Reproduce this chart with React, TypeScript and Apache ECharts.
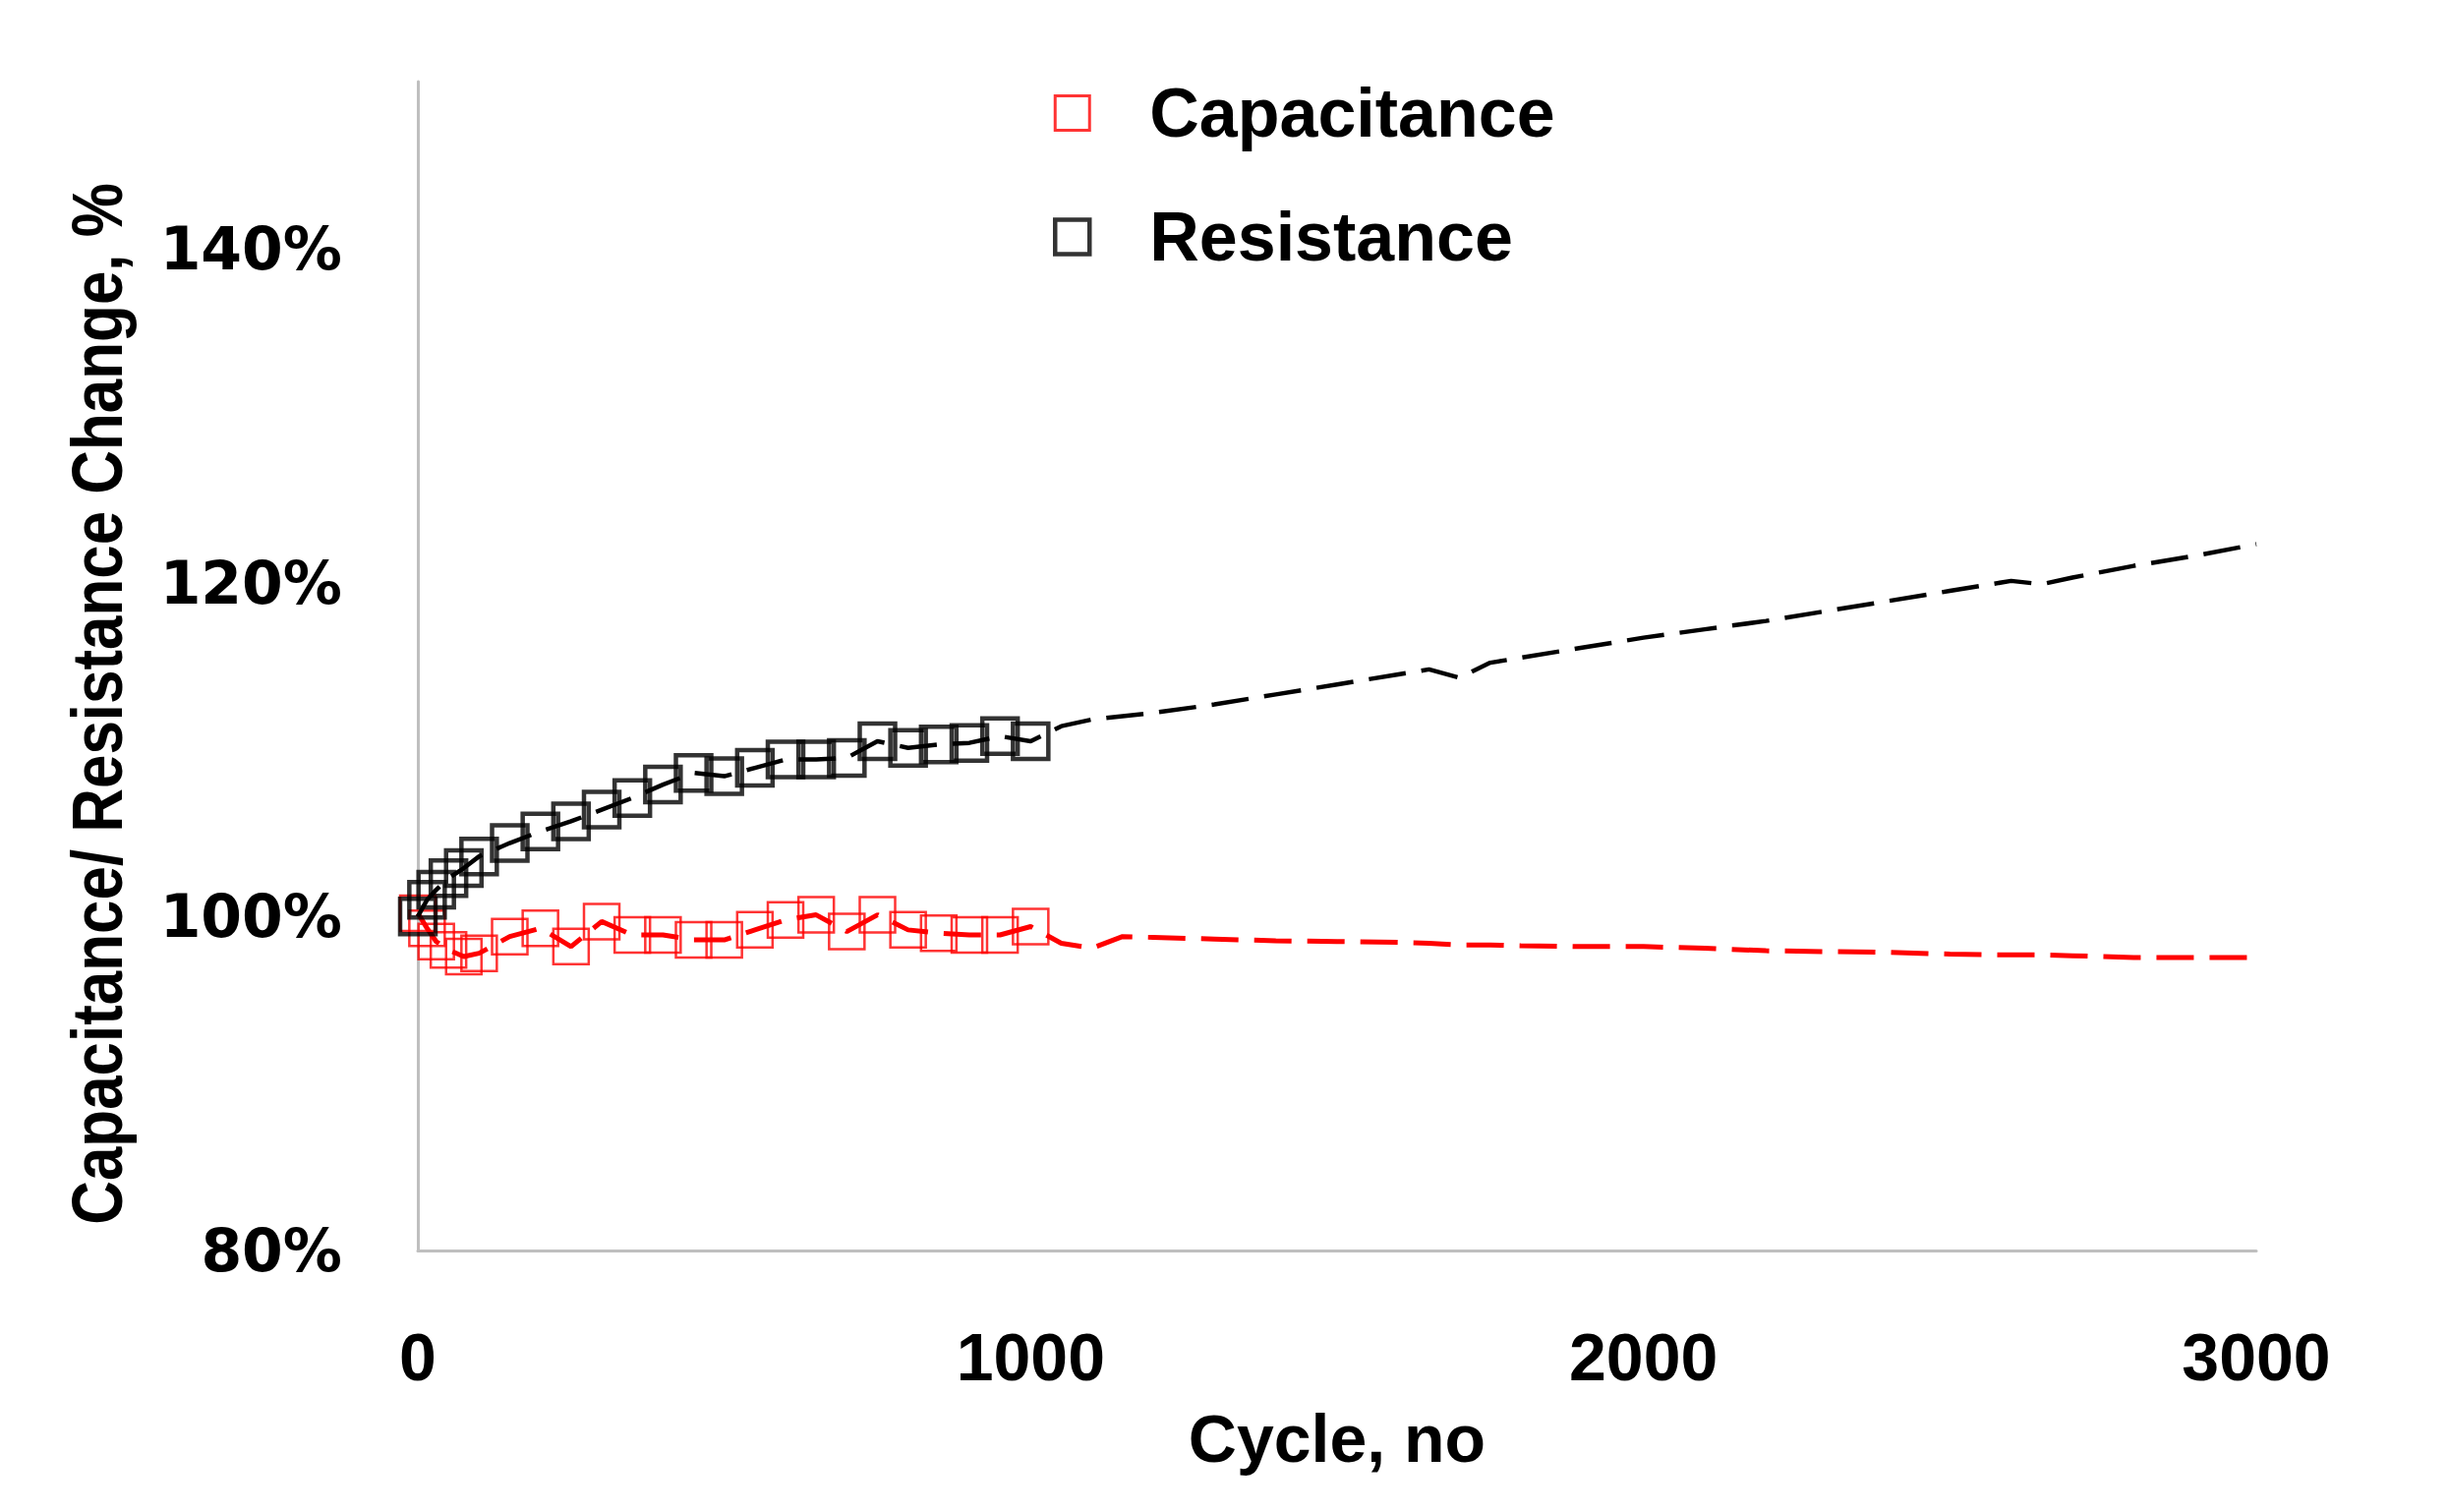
import React, { useEffect, useRef } from "react";
import * as echarts from "echarts";

const markerCycles = [0, 15, 30, 50, 75, 100, 150, 200, 250, 300, 350, 400, 450, 500, 550, 600, 650, 700, 750, 800, 850, 900, 950, 1000];
const capMarkers = [100.2, 99.3, 98.5, 98.0, 97.6, 97.8, 98.8, 99.3, 98.2, 99.7, 98.9, 98.9, 98.6, 98.6, 99.2, 99.8, 100.1, 99.1, 100.1, 99.2, 99.0, 98.9, 98.9, 99.4];
const resMarkers = [100.0, 101.0, 101.6, 102.3, 102.9, 103.6, 104.4, 105.1, 105.7, 106.4, 107.1, 107.9, 108.6, 108.4, 108.9, 109.4, 109.4, 109.5, 110.5, 110.1, 110.3, 110.4, 110.8, 110.5];

const extCycles = [1050, 1100, 1150, 1200, 1300, 1400, 1500, 1600, 1650, 1700, 1750, 1800, 1900, 2000, 2100, 2200, 2300, 2400, 2500, 2600, 2650, 2700, 2800, 2900, 3000];
const capExt = [98.4, 98.1, 98.8, 98.75, 98.65, 98.55, 98.5, 98.45, 98.4, 98.3, 98.3, 98.25, 98.2, 98.2, 98.1, 97.95, 97.9, 97.85, 97.75, 97.7, 97.7, 97.65, 97.55, 97.55, 97.55];
const resExt = [111.4, 111.8, 112.0, 112.2, 112.7, 113.3, 113.9, 114.5, 114.8, 114.3, 115.2, 115.5, 116.1, 116.7, 117.2, 117.7, 118.3, 118.9, 119.5, 120.1, 119.9, 120.3, 121.0, 121.6, 122.3];

const xTicks = { min: 0, max: 3000, interval: 1000 };
const yTicks = { min: 80, max: 150, interval: 20 };

const seriesNames = ["Capacitance", "Resistance"];
const xTitle = "Cycle, no";
const yTitle = "Capacitance/ Resistance Change, %";

const pair = (xs: number[], ys: number[]) => xs.map((x, i) => [x, ys[i]]);

export default function App() {
  const ref = useRef<HTMLDivElement>(null);
  useEffect(() => {
    if (!ref.current) return;
    const chart = echarts.init(ref.current, undefined, { renderer: "svg" });
    const capAll = pair(markerCycles, capMarkers).concat(pair(extCycles, capExt));
    const resAll = pair(markerCycles, resMarkers).concat(pair(extCycles, resExt));
    const axisLine = { show: true, lineStyle: { color: "#bfbfbf", width: 3 } };
    chart.setOption({
      animation: false,
      backgroundColor: "#ffffff",
      grid: { left: 425, right: 195, top: 83, bottom: 266, containLabel: false },
      legend: {
        orient: "vertical",
        left: 1066,
        top: 75,
        itemWidth: 35,
        itemHeight: 35,
        itemGap: 56,
        selectedMode: false,
        data: [
          { name: seriesNames[0], icon: "rect", itemStyle: { color: "#ffffff", borderColor: "#ff0000", borderWidth: 3 } },
          { name: seriesNames[1], icon: "rect", itemStyle: { color: "#ffffff", borderColor: "#000000", borderWidth: 4.5 } },
        ],
        textStyle: {
          fontFamily: '"Liberation Sans", Arial, sans-serif',
          fontWeight: "bold",
          fontSize: 70,
          color: "#000000",
          padding: [0, 0, 0, 56],
        },
      },
      xAxis: {
        type: "value",
        ...xTicks,
        axisLine,
        axisTick: { show: false },
        splitLine: { show: false },
        axisLabel: {
          margin: 74,
          formatter: (v: number) => String(v),
          fontFamily: '"Liberation Sans", Arial, sans-serif',
          fontWeight: "bold",
          fontSize: 68,
          color: "#000000",
        },
        name: xTitle,
        nameLocation: "middle",
        nameGap: 157,
        nameTextStyle: {
          fontFamily: '"Liberation Sans", Arial, sans-serif',
          fontWeight: "bold",
          fontSize: 68,
          color: "#000000",
        },
      },
      yAxis: {
        type: "value",
        ...yTicks,
        axisLine,
        axisTick: { show: false },
        splitLine: { show: false },
        axisLabel: {
          margin: 77,
          showMaxLabel: false,
          formatter: (v: number) => v + "%",
          fontFamily: '"DejaVu Sans", sans-serif',
          fontWeight: "bold",
          fontSize: 60,
          color: "#000000",
        },
      },
      graphic: [
        {
          type: "text",
          x: 99,
          y: 716,
          rotation: Math.PI / 2,
          scaleX: 0.86,
          style: {
            text: yTitle,
            fontFamily: '"Liberation Sans", Arial, sans-serif',
            fontWeight: "bold",
            fontSize: 72,
            fill: "#000000",
            align: "center",
            verticalAlign: "middle",
          },
        },
      ],
      series: [
        {
          name: "Capacitance trend",
          type: "line",
          data: capAll,
          showSymbol: false,
          symbol: "none",
          lineStyle: { color: "#ff0000", width: 5, type: [38, 16] },
          z: 2,
        },
        {
          name: seriesNames[0],
          type: "scatter",
          data: pair(markerCycles, capMarkers),
          symbol: "rect",
          symbolSize: 36,
          clip: false,
          itemStyle: { color: "rgba(0,0,0,0)", borderColor: "#ff0000", borderWidth: 2.5 },
          z: 3,
        },
        {
          name: "Resistance trend",
          type: "line",
          data: resAll,
          showSymbol: false,
          symbol: "none",
          lineStyle: { color: "#000000", width: 4.5, type: [38, 16] },
          z: 4,
        },
        {
          name: seriesNames[1],
          type: "scatter",
          data: pair(markerCycles, resMarkers),
          symbol: "rect",
          symbolSize: 36,
          clip: false,
          itemStyle: { color: "rgba(0,0,0,0)", borderColor: "#000000", borderWidth: 4.5 },
          z: 5,
        },
      ],
    });
    return () => chart.dispose();
  }, []);
  return (
    <div
      ref={ref}
      style={{ position: "fixed", left: 0, top: 0, width: 2490, height: 1538, background: "#ffffff" }}
    />
  );
}
